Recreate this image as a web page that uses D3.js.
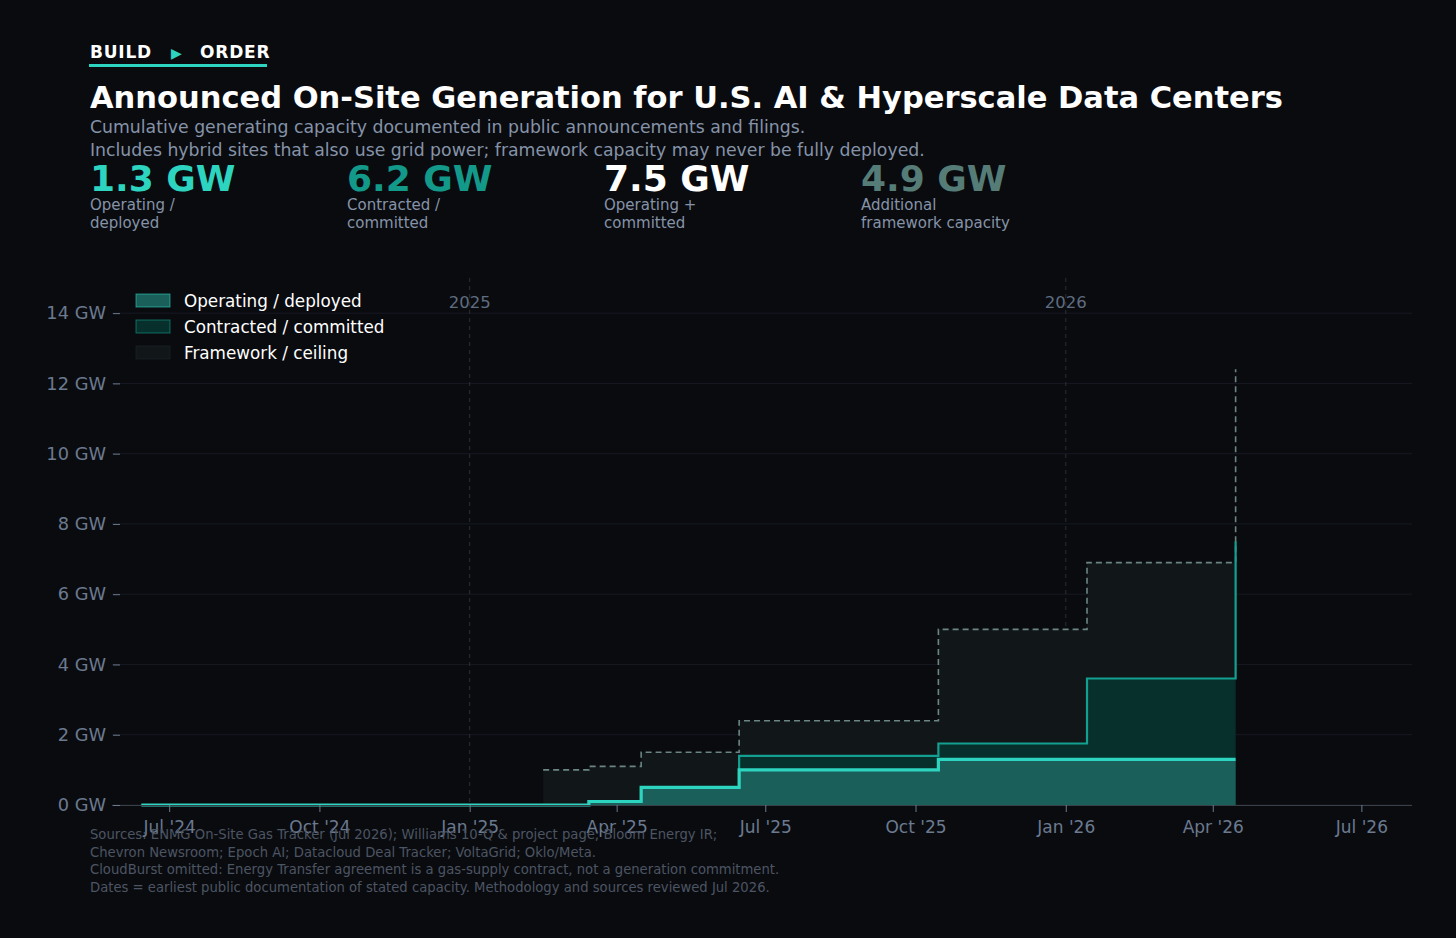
<!DOCTYPE html><html><head><meta charset="utf-8">
<script src="https://cdn.jsdelivr.net/npm/d3@7"></script>
<style>body{margin:0;background:#0a0b0f;}svg{display:block;font-family:"DejaVu Sans",sans-serif}</style></head><body>
<svg id="c" width="1456" height="938"></svg>
<script>
const stepDates = ["2024-06-14","2025-02-15","2025-03-15","2025-04-16","2025-06-15","2025-10-15","2026-01-14","2026-04-15"];
const operating  = [0, 0,   0.1, 0.5, 1.0, 1.3, 1.3, 1.3];
const committed  = [0, 0,   0.1, 0.5, 1.4, 1.75, 3.6, 7.5];
const framework  = [null, 1.0, 1.1, 1.5, 2.4, 5.0, 6.9, 12.4];
const yTicks = [0,2,4,6,8,10,12,14];
const xTicks = ["2024-07-01","2024-10-01","2025-01-01","2025-04-01","2025-07-01","2025-10-01","2026-01-01","2026-04-01","2026-07-01"];
const xTickLabels = ["Jul '24","Oct '24","Jan '25","Apr '25","Jul '25","Oct '25","Jan '26","Apr '26","Jul '26"];
const years = ["2025","2026"];
const kpiValues = ["1.3 GW","6.2 GW","7.5 GW","4.9 GW"];
const kpiLabels = [["Operating /","deployed"],["Contracted /","committed"],["Operating +","committed"],["Additional","framework capacity"]];
const legendItems = ["Operating / deployed","Contracted / committed","Framework / ceiling"];

const svg = d3.select("#c");
const P = d3.timeParse("%Y-%m-%d");
const x = d3.scaleTime().domain([P("2024-05-27"),P("2026-08-01")]).range([112,1412]);
const y = d3.scaleLinear().domain([0,15]).range([805,278]);
svg.append("rect").attr("width",1456).attr("height",938).attr("fill","#0a0b0f");

// header
const kk=svg.append("g").attr("fill","#fff").attr("font-weight","bold").attr("font-size",17).attr("letter-spacing",0.8);
kk.append("text").attr("x",90).attr("y",58).text("BUILD");
kk.append("text").attr("x",171).attr("y",58).attr("fill","#2dd4bf").attr("font-size",14).text("▶");
kk.append("text").attr("x",200).attr("y",58).text("ORDER");
svg.append("rect").attr("x",89).attr("y",64).attr("width",178).attr("height",3).attr("fill","#2dd4bf");
svg.append("text").attr("x",90).attr("y",108).attr("fill","#fff").attr("font-weight","bold").attr("font-size",30.5)
  .text("Announced On-Site Generation for U.S. AI & Hyperscale Data Centers");
["Cumulative generating capacity documented in public announcements and filings.",
 "Includes hybrid sites that also use grid power; framework capacity may never be fully deployed."]
 .forEach((t,i)=>svg.append("text").attr("x",90).attr("y",133+i*23).attr("fill","#8593a8").attr("font-size",17.3).text(t));
const kc=["#2dd4bf","#13998a","#ffffff","#567c78"];
kpiValues.forEach((v,i)=>{
  const kx=90+i*257;
  svg.append("text").attr("x",kx).attr("y",191).attr("fill",kc[i]).attr("font-weight","bold").attr("font-size",36).text(v);
  kpiLabels[i].forEach((l,j)=>svg.append("text").attr("x",kx).attr("y",210+j*18).attr("fill","#8593a8").attr("font-size",15).text(l));
});

// grid
yTicks.forEach(t=>svg.append("line").attr("x1",112).attr("x2",1412).attr("y1",y(t)).attr("y2",y(t)).attr("stroke","#171a23"));
years.forEach(yr=>{
  const xx=x(P(yr+"-01-01"));
  svg.append("line").attr("x1",xx).attr("x2",xx).attr("y1",278).attr("y2",805).attr("stroke","#2a2f38").attr("stroke-dasharray","4,4");
  svg.append("text").attr("x",xx).attr("y",308).attr("text-anchor","middle").attr("fill","#5f6d80").attr("font-size",16.5).text(yr);
});

const pts = arr => stepDates.map((d,i)=>({d:P(d),v:arr[i]}));
const area = d3.area().x(p=>x(p.d)).y0(y(0)).y1(p=>y(p.v)).curve(d3.curveStepAfter).defined(p=>p.v!=null);
const line = d3.line().x(p=>x(p.d)).y(p=>y(p.v)).curve(d3.curveStepAfter).defined(p=>p.v!=null);
const body = arr => pts(arr).map((p,i,a)=> i===a.length-1 ? {d:p.d,v:a[i-1].v} : p);
svg.append("path").attr("d",area(body(framework))).attr("fill","#111619");
svg.append("path").attr("d",area(body(committed))).attr("fill","#07302d");
svg.append("path").attr("d",area(body(operating))).attr("fill","#1b5f5a");
svg.append("path").attr("d",line(pts(framework))).attr("fill","none").attr("stroke","#6b8585").attr("stroke-width",1.6).attr("stroke-dasharray","6,4");
svg.append("path").attr("d",line(pts(committed))).attr("fill","none").attr("stroke","#14a090").attr("stroke-width",2.2);
svg.append("path").attr("d",line(pts(operating))).attr("fill","none").attr("stroke","#2dd4bf").attr("stroke-width",3.2);

// axes
svg.append("line").attr("x1",112).attr("x2",1412).attr("y1",805.5).attr("y2",805.5).attr("stroke","#3a4048");
const ya=svg.append("g").attr("transform","translate(120,0)").call(d3.axisLeft(y).tickValues(yTicks).tickSize(7).tickFormat(d=>d+" GW"));
const xa=svg.append("g").attr("transform","translate(0,805)").call(d3.axisBottom(x).tickValues(xTicks.map(P)).tickSize(7).tickFormat((d,i)=>xTickLabels[i]));
[ya,xa].forEach(g=>{g.select(".domain").remove();g.selectAll("line").attr("stroke","#6b7a8f");
  g.selectAll("text").attr("fill","#6b7a8f").attr("font-size",17).attr("font-family","DejaVu Sans");});
xa.selectAll("text").attr("dy","1.05em");
ya.selectAll("text").attr("font-size",17.8).attr("dx","-4");

// legend
const lf=["#1b5f5a","#07302d","#111619"], ls=["#2dd4bf","#14a090","#1f2a2c"];
legendItems.forEach((t,i)=>{
  const ly=301+i*26;
  svg.append("rect").attr("x",136).attr("y",ly-7).attr("width",34).attr("height",13).attr("fill",lf[i]).attr("stroke",ls[i]).attr("stroke-opacity",0.6);
  svg.append("text").attr("x",184).attr("y",ly+6).attr("fill","#fff").attr("font-size",16.8).text(t);
});

// footer
["Sources: ENMG On-Site Gas Tracker (Jul 2026); Williams 10-Q & project page; Bloom Energy IR;",
 "Chevron Newsroom; Epoch AI; Datacloud Deal Tracker; VoltaGrid; Oklo/Meta.",
 "CloudBurst omitted: Energy Transfer agreement is a gas-supply contract, not a generation commitment.",
 "Dates = earliest public documentation of stated capacity. Methodology and sources reviewed Jul 2026."]
 .forEach((t,i)=>svg.append("text").attr("x",90).attr("y",839+i*17.5).attr("fill","#4c5563").attr("font-size",13.2).text(t));
</script></body></html>
